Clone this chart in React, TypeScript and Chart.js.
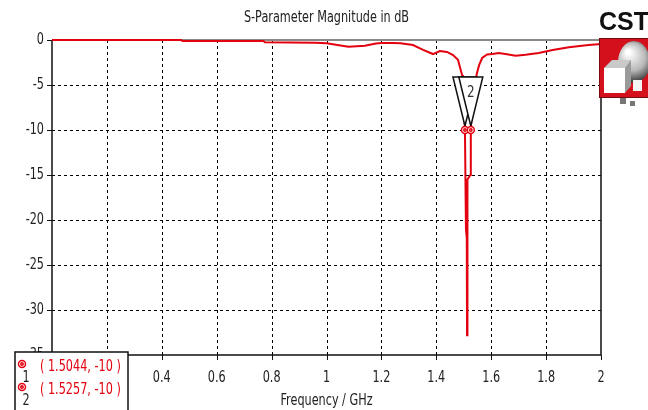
import React, { useEffect, useRef } from "react";
import { Chart, registerables } from "chart.js";

Chart.register(...registerables);

const freqGHz = [0, 0.2, 0.4, 0.47, 0.475, 0.77, 0.775, 0.96, 1.0, 1.04, 1.08, 1.11, 1.14, 1.18, 1.2, 1.24, 1.27, 1.315, 1.352, 1.388, 1.413, 1.439, 1.461, 1.479, 1.486, 1.494, 1.497, 1.5044, 1.508, 1.511, 1.512, 1.513, 1.514, 1.524, 1.5257, 1.53, 1.536, 1.548, 1.556, 1.567, 1.585, 1.605, 1.627, 1.652, 1.689, 1.725, 1.773, 1.824, 1.883, 1.955, 2.0];
const s11dB = [0, 0, 0, 0, -0.1, -0.1, -0.25, -0.3, -0.35, -0.55, -0.75, -0.7, -0.65, -0.4, -0.33, -0.33, -0.35, -0.56, -1.1, -1.56, -1.22, -1.33, -1.67, -2.2, -3.0, -3.9, -5, -10, -21, -22, -32.8, -30, -15.5, -15, -10, -7.5, -5.5, -3.7, -2.8, -2.0, -1.6, -1.55, -1.45, -1.55, -1.75, -1.65, -1.45, -1.1, -0.8, -0.55, -0.45];

const markerFreq = [1.5044, 1.5257];
const markerValue = [-10, -10];
const markerNames = ["1", "2"];
const markerLabels = ["( 1.5044, -10 )", "( 1.5257, -10 )"];

const xTicks = [0, 0.2, 0.4, 0.6, 0.8, 1, 1.2, 1.4, 1.6, 1.8, 2];
const yTicks = [0, -5, -10, -15, -20, -25, -30, -35];

const chartTitle = "S-Parameter Magnitude in dB";
const xTitle = "Frequency / GHz";

const FONT = "'DejaVu Sans', sans-serif";
const RED = "#e3000f";
const TXT = "#222";

function txt(ctx: CanvasRenderingContext2D, s: string, x: number, y: number, align: CanvasTextAlign, size: number, color: string, sx = 0.75) {
  ctx.save();
  ctx.translate(x, y);
  ctx.scale(sx, 1);
  ctx.font = `${size}px ${FONT}`;
  ctx.textAlign = align;
  ctx.textBaseline = "middle";
  ctx.fillStyle = color;
  ctx.fillText(s, 0, 0);
  ctx.restore();
}

function fmt(v: number) {
  return String(Math.round(v * 10) / 10);
}

const overlay = {
  id: "cstOverlay",
  beforeDatasetsDraw(chart: any) {
    const { ctx, chartArea: a, scales } = chart;
    const xs = scales.x, ys = scales.y;
    ctx.save();
    // grid
    ctx.strokeStyle = "#000";
    ctx.lineWidth = 1;
    ctx.setLineDash([3, 3]);
    xTicks.forEach((v) => {
      if (v === 0 || v === 2) return;
      const px = Math.round(xs.getPixelForValue(v)) + 0.5;
      ctx.beginPath(); ctx.moveTo(px, a.top); ctx.lineTo(px, a.bottom); ctx.stroke();
    });
    yTicks.forEach((v) => {
      if (v === 0 || v === -35) return;
      const py = Math.round(ys.getPixelForValue(v)) + 0.5;
      ctx.beginPath(); ctx.moveTo(a.left, py); ctx.lineTo(a.right, py); ctx.stroke();
    });
    ctx.setLineDash([]);
    // borders
    ctx.strokeStyle = "#8a8a8a";
    ctx.lineWidth = 2;
    ctx.beginPath(); ctx.moveTo(a.left, a.top); ctx.lineTo(a.right, a.top); ctx.stroke();
    ctx.strokeStyle = "#111";
    ctx.lineWidth = 1.5;
    ctx.beginPath();
    ctx.moveTo(a.left, a.top); ctx.lineTo(a.left, a.bottom); ctx.lineTo(a.right, a.bottom); ctx.lineTo(a.right, a.top);
    ctx.stroke();
    // tick marks
    ctx.lineWidth = 1;
    xTicks.forEach((v) => {
      const px = Math.round(xs.getPixelForValue(v)) + 0.5;
      ctx.beginPath(); ctx.moveTo(px, a.bottom); ctx.lineTo(px, a.bottom + 5); ctx.stroke();
    });
    yTicks.forEach((v) => {
      const py = Math.round(ys.getPixelForValue(v)) + 0.5;
      ctx.beginPath(); ctx.moveTo(a.left - 5, py); ctx.lineTo(a.left, py); ctx.stroke();
    });
    // tick labels
    xTicks.forEach((v) => txt(ctx, fmt(v), xs.getPixelForValue(v), a.bottom + 23, "center", 15, TXT));
    yTicks.forEach((v) => txt(ctx, fmt(v), a.left - 8, ys.getPixelForValue(v), "right", 15, TXT));
    ctx.restore();
  },
  afterDraw(chart: any) {
    const { ctx, chartArea: a, scales } = chart;
    const xs = scales.x, ys = scales.y;
    ctx.save();
    // titles
    txt(ctx, chartTitle, (a.left + a.right) / 2, 18, "center", 15, TXT);
    txt(ctx, xTitle, (a.left + a.right) / 2, 401, "center", 15, TXT);

    // marker triangles
    const pts = markerFreq.map((f, i) => ({ x: xs.getPixelForValue(f), y: ys.getPixelForValue(markerValue[i]) }));
    pts.forEach((p) => {
      ctx.beginPath();
      ctx.moveTo(p.x - 12, p.y - 53);
      ctx.lineTo(p.x + 12, p.y - 53);
      ctx.lineTo(p.x, p.y - 4);
      ctx.closePath();
      ctx.fillStyle = "#fff";
      ctx.fill();
      ctx.strokeStyle = "#111";
      ctx.lineWidth = 1.5;
      ctx.stroke();
    });
    const last = pts[pts.length - 1];
    txt(ctx, markerNames[markerNames.length - 1], last.x, last.y - 37, "center", 16, "#333");
    // marker circles
    pts.forEach((p) => {
      ctx.fillStyle = "#fff";
      ctx.strokeStyle = RED;
      ctx.lineWidth = 1.5;
      ctx.beginPath(); ctx.arc(p.x, p.y, 3.5, 0, Math.PI * 2); ctx.fill(); ctx.stroke();
      ctx.beginPath(); ctx.arc(p.x, p.y, 1.2, 0, Math.PI * 2); ctx.stroke();
    });

    // marker legend box
    ctx.fillStyle = "#fff";
    ctx.fillRect(15, 352, 113, 70);
    ctx.strokeStyle = "#111";
    ctx.lineWidth = 1.5;
    ctx.strokeRect(15, 352, 113, 70);
    markerLabels.forEach((t, i) => {
      const cy = 364 + i * 23;
      ctx.strokeStyle = RED;
      ctx.lineWidth = 1.5;
      ctx.beginPath(); ctx.arc(22, cy, 3.5, 0, Math.PI * 2); ctx.stroke();
      ctx.beginPath(); ctx.arc(22, cy, 1.2, 0, Math.PI * 2); ctx.stroke();
      txt(ctx, markerNames[i], 26, cy + 14, "center", 15, TXT);
      txt(ctx, t, 40, cy + 3, "left", 15, RED);
    });

    // CST logo
    ctx.fillStyle = "#111";
    ctx.font = "bold 25px 'Liberation Sans', Arial, sans-serif";
    ctx.textAlign = "left";
    ctx.textBaseline = "alphabetic";
    ctx.fillText("CST", 599, 30);
    ctx.fillStyle = "#d4101c";
    ctx.fillRect(599, 38, 50, 60);
    ctx.strokeStyle = "#7a0a10";
    ctx.lineWidth = 1;
    ctx.strokeRect(599.5, 38.5, 50, 59);
    const g = ctx.createRadialGradient(628, 52, 2, 634, 60, 22);
    g.addColorStop(0, "#ffffff");
    g.addColorStop(0.6, "#b8b8b8");
    g.addColorStop(1, "#3a3a3a");
    ctx.fillStyle = g;
    ctx.beginPath(); ctx.ellipse(634, 62, 16, 21, 0, 0, Math.PI * 2); ctx.fill();
    ctx.fillStyle = "#c9c9c9";
    ctx.beginPath();
    ctx.moveTo(604, 68); ctx.lineTo(612, 60); ctx.lineTo(631, 60); ctx.lineTo(625, 68); ctx.closePath(); ctx.fill();
    ctx.fillStyle = "#ffffff";
    ctx.fillRect(604, 68, 21, 25);
    ctx.fillStyle = "#9a9a9a";
    ctx.beginPath();
    ctx.moveTo(625, 68); ctx.lineTo(631, 60); ctx.lineTo(631, 86); ctx.lineTo(625, 93); ctx.closePath(); ctx.fill();
    ctx.fillStyle = "#f4f4f4";
    ctx.fillRect(633, 80, 9, 11);
    ctx.fillStyle = "#777";
    ctx.fillRect(620, 98, 6, 6);
    ctx.fillRect(630, 101, 5, 5);
    ctx.restore();
  },
};

export default function App() {
  const ref = useRef<HTMLCanvasElement | null>(null);
  useEffect(() => {
    if (!ref.current) return;
    const chart = new Chart(ref.current, {
      type: "line",
      data: {
        datasets: [
          {
            label: "S1,1",
            data: freqGHz.map((f, i) => ({ x: f, y: s11dB[i] })),
            borderColor: RED,
            borderWidth: 2,
            pointRadius: 0,
            tension: 0,
            clip: false as any,
          },
        ],
      },
      options: {
        animation: false,
        responsive: false,
        devicePixelRatio: 1,
        layout: { padding: { left: 0, top: 40, right: 47, bottom: 0 } },
        plugins: { legend: { display: false }, title: { display: false }, tooltip: { enabled: false } },
        scales: {
          x: {
            type: "linear",
            min: 0,
            max: 2,
            afterBuildTicks: (s: any) => { s.ticks = xTicks.map((v) => ({ value: v })); },
            afterFit: (s: any) => { s.height = 55; },
            grid: { display: false },
            border: { display: false },
            ticks: { display: false },
          },
          y: {
            type: "linear",
            min: -35,
            max: 0,
            afterBuildTicks: (s: any) => { s.ticks = yTicks.map((v) => ({ value: v })); },
            afterFit: (s: any) => { s.width = 52; },
            grid: { display: false },
            border: { display: false },
            ticks: { display: false },
          },
        },
      },
      plugins: [overlay],
    });
    return () => chart.destroy();
  }, []);
  return (
    <div style={{ position: "fixed", left: 0, top: 0, width: 648, height: 410, background: "#fff" }}>
      <canvas ref={ref} width={648} height={410} style={{ display: "block" }} />
    </div>
  );
}
